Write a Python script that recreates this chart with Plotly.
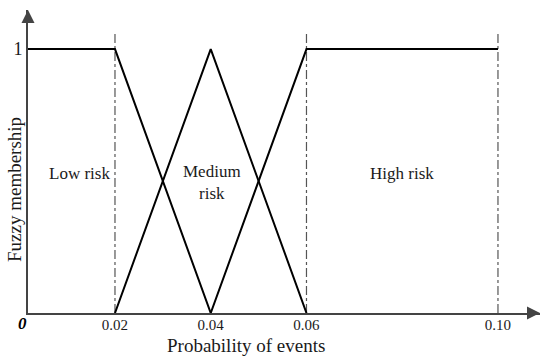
import plotly.graph_objects as go

# membership functions (x = probability of events, y = membership)
low_x = [0.0, 0.02, 0.04]
low_y = [1, 1, 0]
med_x = [0.02, 0.04, 0.06]
med_y = [0, 1, 0]
high_x = [0.04, 0.06, 0.10]
high_y = [0, 1, 1]

# dash-dot boundaries
bounds = [0.02, 0.06, 0.10]
bound_top = 1.065

tick_vals = [0.02, 0.04, 0.06, 0.10]
tick_text = ["0.02", "0.04", "0.06", "0.10"]

regions = ["Low risk", "Medium<br>risk", "High risk"]
region_x = [0.0125, 0.0403, 0.080]
region_y = [0.53, 0.494, 0.53]

serif = "Liberation Serif"

fig = go.Figure()

for bx in bounds:
    fig.add_trace(go.Scatter(x=[bx, bx], y=[0, bound_top], mode="lines",
                             line=dict(color="#555555", width=1.2, dash="dashdot"),
                             showlegend=False, hoverinfo="skip"))

for xs, ys in [(low_x, low_y), (med_x, med_y), (high_x, high_y)]:
    fig.add_trace(go.Scatter(x=xs, y=ys, mode="lines",
                             line=dict(color="black", width=2),
                             showlegend=False))

for txt, tx, ty in zip(regions, region_x, region_y):
    fig.add_annotation(x=tx, y=ty, text=txt, showarrow=False,
                       font=dict(family=serif, size=17, color="#1a1a1a"))

# axis arrows
fig.add_annotation(x=1, y=0, xref="paper", yref="paper", ax=-14, ay=0,
                   text="", showarrow=True, arrowhead=2, arrowsize=1.3,
                   arrowwidth=2, arrowcolor="#444444")
fig.add_annotation(x=0, y=1, xref="paper", yref="paper", ax=0, ay=14,
                   text="", showarrow=True, arrowhead=2, arrowsize=1.3,
                   arrowwidth=2, arrowcolor="#444444")

# origin label
fig.add_annotation(x=0, y=0, xref="paper", yref="paper", xshift=-6, yshift=-10,
                   xanchor="center", yanchor="middle",
                   text="<b><i>0</i></b>", showarrow=False,
                   font=dict(family=serif, size=17, color="black"))

# axis titles
fig.add_annotation(x=0.426, y=0, xref="paper", yref="paper", yshift=-32,
                   xanchor="center", yanchor="middle",
                   text="Probability of events", showarrow=False,
                   font=dict(family=serif, size=19, color="#1a1a1a"))
fig.add_annotation(x=0, y=0.406, xref="paper", yref="paper", xshift=-13,
                   xanchor="center", yanchor="middle",
                   text="Fuzzy membership", textangle=-90, showarrow=False,
                   font=dict(family=serif, size=19, color="#1a1a1a"))

fig.update_xaxes(range=[0.00183, 0.10878], showgrid=False, zeroline=False,
                 showline=True, linecolor="#444444", linewidth=2,
                 tickvals=tick_vals, ticktext=tick_text, ticks="",
                 automargin=False, ticklabelstandoff=-3,
                 tickfont=dict(family=serif, size=15, color="#1a1a1a"))
fig.update_yaxes(range=[0, 1.148], showgrid=False, zeroline=False,
                 showline=True, linecolor="#444444", linewidth=2,
                 tickvals=[1], ticktext=["1"], ticks="",
                 automargin=False,
                 tickfont=dict(family=serif, size=18, color="#1a1a1a"))

fig.update_layout(width=550, height=356, plot_bgcolor="white",
                  paper_bgcolor="white",
                  margin=dict(l=28, r=10, t=10, b=43))

# drop the browser's default page margin so the chart sits at the corner
fig.write_html("out.html", config={"displayModeBar": False},
               post_script="document.body.style.margin='0';")
